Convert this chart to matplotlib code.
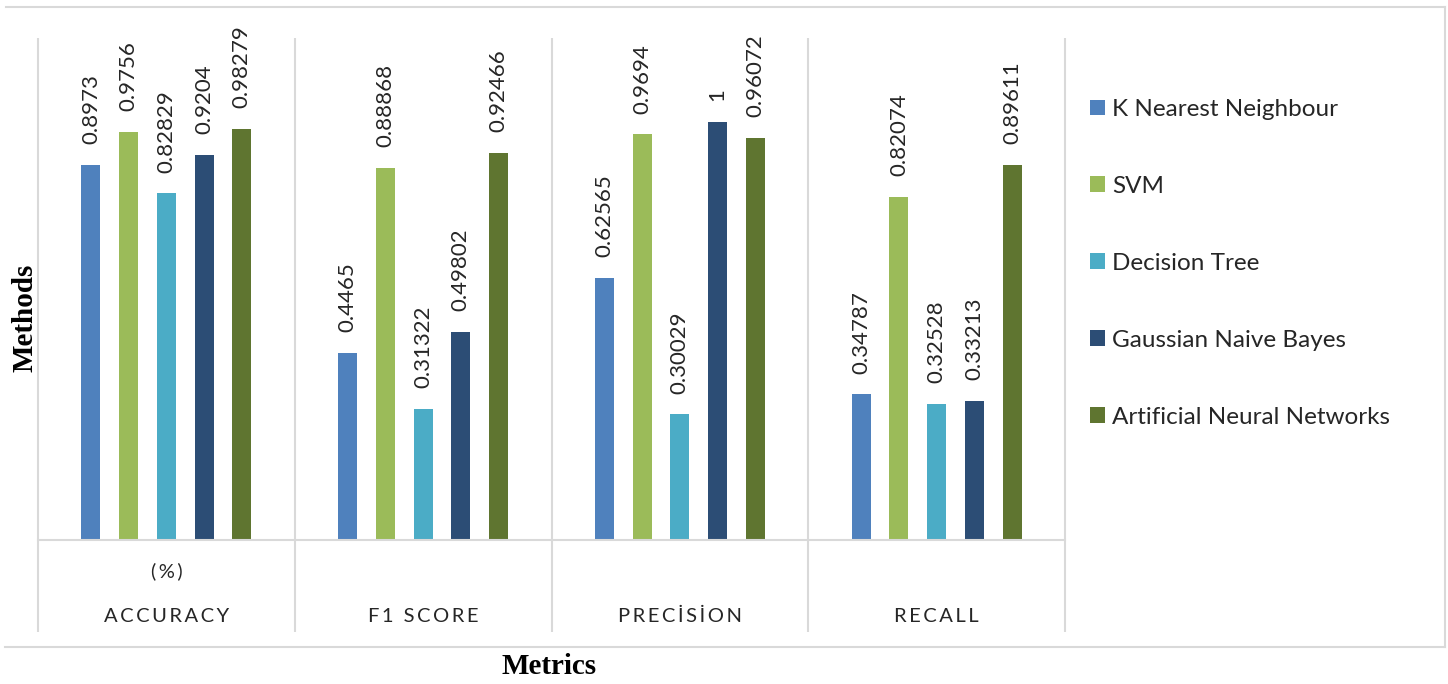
import matplotlib

matplotlib.use("Agg")
import matplotlib.pyplot as plt
import numpy as np
from matplotlib.lines import Line2D

plt.rcParams["font.family"] = ["Lato", "DejaVu Sans"]

GRID_COLOR = "#d9d9d9"
TEXT_COLOR = "#262626"

metrics = ["ACCURACY", "F1 SCORE", "PRECİSİON", "RECALL"]
sub_labels = ["(%)", "", "", ""]
methods = [
    "K Nearest Neighbour",
    "SVM",
    "Decision Tree",
    "Gaussian Naive Bayes",
    "Artificial Neural Networks",
]
colors = ["#4f81bd", "#9bbb59", "#4bacc6", "#2c4d75", "#5f7530"]

knn = [0.8973, 0.4465, 0.62565, 0.34787]
svm = [0.9756, 0.88868, 0.9694, 0.82074]
dtree = [0.82829, 0.31322, 0.30029, 0.32528]
gnb = [0.9204, 0.49802, 1.0, 0.33213]
ann = [0.98279, 0.92466, 0.96072, 0.89611]
series = [knn, svm, dtree, gnb, ann]

W, H = 1448, 684
fig = plt.figure(figsize=(W / 100, H / 100), dpi=100)
ax = fig.add_axes([38 / W, 144 / H, (1065 - 38) / W, 502 / H])

x = np.arange(len(metrics))
step, width = 0.147, 0.074
handles = []
for j, (vals, col) in enumerate(zip(series, colors)):
    pos = x + (j - 2) * step
    bars = ax.bar(pos, vals, width=width, color=col, linewidth=0)
    handles.append(bars)
    for px, v in zip(pos, vals):
        ax.annotate(f"{v:g}", (px, v), xytext=(0, 15), textcoords="offset points",
                    rotation=90, ha="center", va="bottom", fontsize=16, color=TEXT_COLOR)

ax.set_xlim(-0.5, len(metrics) - 0.5)
ax.set_ylim(0, 1.2)
ax.set_xticks([])
ax.set_yticks([])
for side in ["top", "left", "right"]:
    ax.spines[side].set_visible(False)
ax.spines["bottom"].set_color(GRID_COLOR)
ax.spines["bottom"].set_linewidth(1.5)

# category separators running down through the label rows
low = -92 / 502
ax.vlines(np.arange(len(metrics) + 1) - 0.5, low, 1, transform=ax.get_xaxis_transform(),
          colors=GRID_COLOR, linewidth=1.5, clip_on=False)

trans = ax.get_xaxis_transform()
for i, (name, sub) in enumerate(zip(metrics, sub_labels)):
    ax.text(i, -76 / 502, "\u2009".join(name), transform=trans, ha="center", va="center",
            fontsize=14.5, color=TEXT_COLOR)
    if sub:
        ax.text(i, -31 / 502, "(\u2009%\u2009)", transform=trans, ha="center", va="center",
                fontsize=14.5, color=TEXT_COLOR)

fig.legend(handles, methods, loc="upper left", bbox_to_anchor=(1090 / W, 1 - 99 / H),
           frameon=False, fontsize=17.5, handlelength=0.62, handleheight=0.62,
           handletextpad=0.3, labelspacing=2.3, borderpad=0, borderaxespad=0,
           labelcolor=TEXT_COLOR)

# outer frame of the chart area
frame = dict(color=GRID_COLOR, linewidth=1.5, transform=fig.transFigure)
fig.add_artist(Line2D([6 / W, 1445 / W], [1 - 7 / H, 1 - 7 / H], **frame))
fig.add_artist(Line2D([5 / W, 1445 / W], [1 - 647 / H, 1 - 647 / H], **frame))
fig.add_artist(Line2D([1445 / W, 1445 / W], [1 - 7 / H, 1 - 647 / H], **frame))

serif = dict(family="Liberation Serif", weight="bold", fontsize=21, color="black")
fig.text(25 / W, 1 - 318 / H, "Methods", rotation=90, ha="center", va="center", **serif)
fig.text(549 / W, 1 - 666 / H, "Metrics", ha="center", va="center", **serif)

fig.savefig("out.png", dpi=100)
